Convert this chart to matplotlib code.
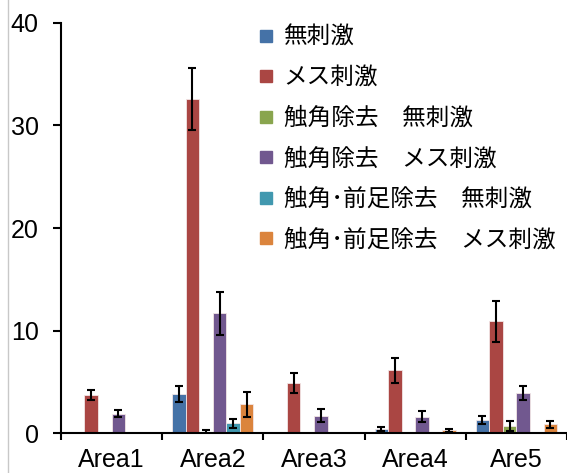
import numpy as np
import matplotlib.pyplot as plt
from matplotlib.lines import Line2D

plt.rcParams['font.family'] = ['Liberation Sans', 'Noto Sans CJK JP']

areas = ['Area1', 'Area2', 'Area3', 'Area4', 'Are5']
series = ['無刺激', 'メス刺激', '触角除去\u3000無刺激', '触角除去\u3000メス刺激',
          '触角\uff65前足除去\u3000無刺激', '触角\uff65前足除去\u3000メス刺激']
colors = ['#4572A7', '#AA4643', '#89A54E', '#71588F', '#4198AF', '#DB843D']

means = [
    [0.0, 3.8, 0.0, 0.35, 1.25],    # 無刺激
    [3.7, 32.6, 4.9, 6.1, 10.9],    # メス刺激
    [0.0, 0.1, 0.0, 0.0, 0.7],      # 触角除去 無刺激
    [1.9, 11.7, 1.7, 1.6, 3.9],     # 触角除去 メス刺激
    [0.0, 0.95, 0.0, 0.0, 0.0],     # 触角・前足除去 無刺激
    [0.0, 2.8, 0.0, 0.25, 0.85],    # 触角・前足除去 メス刺激
]
errs = [
    [0.0, 0.8, 0.0, 0.2, 0.4],
    [0.5, 3.0, 1.0, 1.2, 2.0],
    [0.0, 0.2, 0.0, 0.0, 0.5],
    [0.3, 2.1, 0.6, 0.5, 0.7],
    [0.0, 0.45, 0.0, 0.0, 0.0],
    [0.0, 1.2, 0.0, 0.15, 0.35],
]


def main():
    W, H = 567, 473
    fig = plt.figure(figsize=(W / 100, H / 100), dpi=100)
    ax = fig.add_axes([61 / W, 40 / H, (W - 61) / W, 410 / H])

    x = np.arange(len(areas))
    bw = 0.134
    offsets = (np.arange(len(series)) - (len(series) - 1) / 2) * bw
    handles = []
    for i, (m, e, c) in enumerate(zip(means, errs, colors)):
        m = np.array(m)
        e = np.array(e)
        show = (m > 0)
        ax.bar(x[show] + offsets[i], m[show], width=bw, color=c,
               edgecolor='#f2e6e6', linewidth=0.6, zorder=2)
        ax.errorbar(x[show] + offsets[i], m[show], yerr=e[show], fmt='none',
                    ecolor='black', elinewidth=1.5, capsize=3, capthick=1.5,
                    zorder=3)
        handles.append(Line2D([], [], marker='s', linestyle='none',
                              markersize=9, markerfacecolor=c,
                              markeredgecolor=c))

    ax.set_xlim(-0.5, -0.5 + (W - 61) / 102)
    ax.set_ylim(0, 40)
    ax.set_yticks([0, 10, 20, 30, 40])
    ax.set_xticks(x)
    ax.set_xticklabels(areas, fontsize=18)
    ax.tick_params(axis='x', length=0, pad=11)
    ax.set_xticks(np.arange(-0.5, 5.0, 1.0), minor=True)
    ax.tick_params(axis='x', which='minor', length=5, width=1.5,
                   direction='out')
    ax.tick_params(axis='y', labelsize=18, length=6, width=1.5,
                   direction='out', pad=10)
    for s in ['top', 'right']:
        ax.spines[s].set_visible(False)
    for s in ['left', 'bottom']:
        ax.spines[s].set_linewidth(1.5)

    ax.legend(handles, series, loc='upper left',
              bbox_to_anchor=(259 / W, 1 - 26 / H),
              bbox_transform=fig.transFigure, frameon=False,
              prop={'family': ['Noto Sans CJK JP'], 'size': 17},
              labelspacing=0.74, handlelength=0.6, handletextpad=0.45,
              borderaxespad=0, borderpad=0)

    # faint chart border on the left
    fig.add_artist(Line2D([8 / W, 8 / W], [0, 1], color='#c8c8c8',
                          linewidth=1, transform=fig.transFigure))

    fig.savefig('out.png', dpi=100)


if __name__ == '__main__':
    main()
